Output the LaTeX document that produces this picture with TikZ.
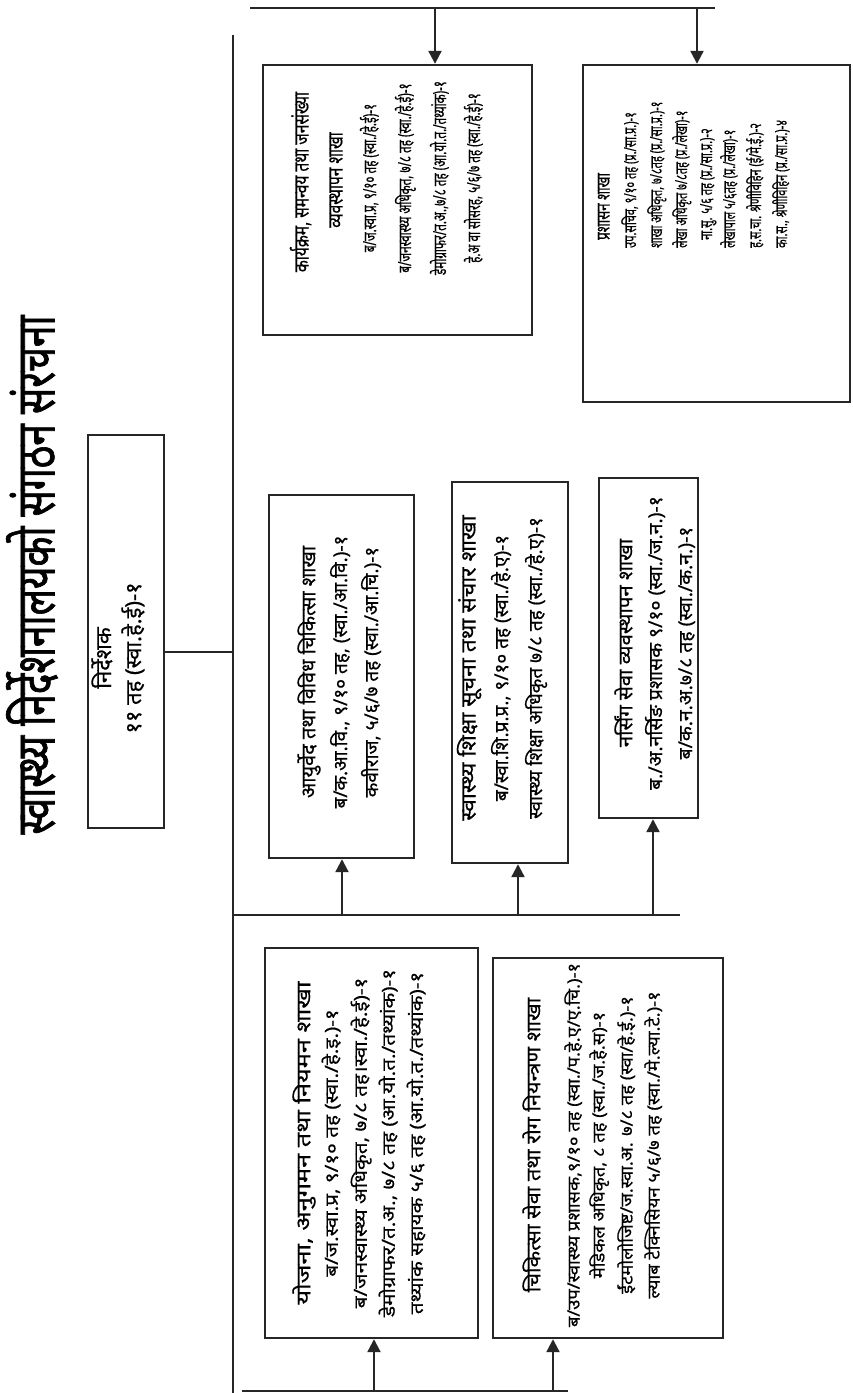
\documentclass[tikz,border=0pt]{standalone}
\usepackage{fontspec}
\usepackage{graphicx}
\usetikzlibrary{arrows.meta}
\newcommand\mkdv[2]{\newfontfamily#1[Script=Devanagari,FakeStretch=#2,FakeBold=0.5]{Noto Sans}}
\newfontfamily\dvT[Script=Devanagari,FakeStretch=0.72,FakeBold=1.2]{Noto Sans}
\mkdv\dvD{1.0}
\mkdv\dvK{0.74}
\mkdv\dvP{1.0}
\mkdv\dvA{1.0}
\mkdv\dvS{1.0}
\mkdv\dvN{1.02}
\mkdv\dvY{1.15}
\mkdv\dvC{1.08}
\newcommand\tline[5]{\node[lnode,#2] (#1) at (#3,#4) {#5};}
\tikzset{
  box/.style={draw=black!85, line width=2.4pt, rectangle, inner sep=0pt},
  conn/.style={draw=black!85, line width=2.2pt},
  arr/.style={conn, -{Triangle[length=13pt,width=13pt]}},
  lnode/.style={rotate=90, anchor=base, inner sep=0pt, text=black},
  fD/.style={font=\dvD\fontsize{22}{26}\selectfont},
  fKt/.style={font=\dvK\fontsize{21}{25}\selectfont},
  fK/.style={font=\dvK\fontsize{18}{22}\selectfont, xscale=0.88},
  fPt/.style={font=\dvP\fontsize{18.5}{22}\selectfont, anchor=base west, xscale=0.72},
  fP/.style={font=\dvP\fontsize{16.5}{20}\selectfont, anchor=base west, xscale=0.67},
  fAt/.style={font=\dvA\fontsize{20}{24}\selectfont},
  fA/.style={font=\dvA\fontsize{19}{23}\selectfont},
  fSt/.style={font=\dvS\fontsize{21}{25}\selectfont, xscale=1.09},
  fS/.style={font=\dvS\fontsize{19}{23}\selectfont},
  fNt/.style={font=\dvN\fontsize{20}{24}\selectfont},
  fN/.style={font=\dvN\fontsize{19}{23}\selectfont},
  fYt/.style={font=\dvY\fontsize{20}{24}\selectfont, xscale=1.1},
  fY/.style={font=\dvY\fontsize{18}{22}\selectfont},
  fCt/.style={font=\dvC\fontsize{20}{24}\selectfont},
  fC/.style={font=\dvC\fontsize{17}{21}\selectfont},
}
\begin{document}
\begin{tikzpicture}[x=1pt,y=-1pt]
\fill[white] (0,0) rectangle (853,1393);
\useasboundingbox (0,0) rectangle (853,1393);
% title
\node[rotate=90, inner sep=0pt, text=black, font={\dvT\fontsize{54}{54}\selectfont}] (title) at (32,575) {स्वास्थ्य निर्देशनालयको संगठन संरचना};
% boxes
\node[box, minimum width=76pt, minimum height=393pt] (dbox) at (126,631.5) {};
\node[box, minimum width=269pt, minimum height=270pt] (kbox) at (397.5,200) {};
\node[box, minimum width=267pt, minimum height=337pt] (pbox) at (716.5,233.5) {};
\node[box, minimum width=145pt, minimum height=363pt] (abox) at (341.5,676.5) {};
\node[box, minimum width=116pt, minimum height=381pt] (sbox) at (510,672.5) {};
\node[box, minimum width=99pt, minimum height=340pt] (nbox) at (648.5,648) {};
\node[box, minimum width=213pt, minimum height=390pt] (ybox) at (371.5,1143) {};
\node[box, minimum width=230pt, minimum height=380pt] (cbox) at (608,1148) {};
% director
\tline{d1}{fD}{111}{658}{निर्देशक}
\tline{d2}{fD}{141}{658}{११ तह (स्वा.हे.ई)-१}
% karyakram
\tline{k1}{fKt}{308.6}{182}{कार्यक्रम, समन्वय तथा जनसंख्या}
\tline{k2}{fKt}{342.6}{180}{व्यवस्थापन शाखा}
\tline{k3}{fK}{376}{178}{ब/ज.स्वा.प्र, ९/१० तह (स्वा./हे.ई)-१}
\tline{k4}{fK}{411}{178}{ब/जनस्वास्थ्य अधिकृत, ७/८ तह (स्वा./हे.ई)-१}
\tline{k5}{fK}{446}{178}{डेमोग्राफर/त.अ.,७/८ तह (आ.यो.त./तथ्यांक)-१}
\tline{k6}{fK}{480}{178}{हे.अ वा सोसरह, ५/६/७ तह (स्वा./हे.ई)-१}
% prashasan
\tline{p1}{fPt}{609.5}{240}{प्रशासन शाखा}
\tline{p2}{fP}{636}{248}{उप.सचिव, ९/१० तह (प्र./सा.प्र.)-१}
\tline{p3}{fP}{662}{248}{शाखा अधिकृत, ७/८तह (प्र./सा.प्र.)-१}
\tline{p4}{fP}{687}{248}{लेखा अधिकृत ७/८तह (प्र./लेखा)-१}
\tline{p5}{fP}{712}{240}{ना.सु. ५/६ तह (प्र./सा.प्र.)-२}
\tline{p6}{fP}{735}{248}{लेखापाल ५/६तह (प्र./लेखा)-१}
\tline{p7}{fP}{761}{248}{ह.स.चा. श्रेणीविहिन (ई/मे.ई.)-२}
\tline{p8}{fP}{787}{248}{का.स., श्रेणीविहिन (प्र./सा.प्र.)-४}
% ayurveda
\tline{a1}{fAt}{315.3}{672}{आयुर्वेद तथा विविध चिकित्सा शाखा}
\tline{a2}{fA}{347}{672}{ब/क.आ.वि., ९/१० तह, (स्वा./आ.वि.)-१}
\tline{a3}{fA}{378}{672}{कवीराज, ५/६/७ तह (स्वा./आ.चि.)-१}
% swasthya shiksha
\tline{s1}{fSt}{475.6}{668}{स्वास्थ्य शिक्षा सूचना तथा संचार शाखा}
\tline{s2}{fS}{508}{668}{ब/स्वा.शि.प्र.प्र., ९/१० तह (स्वा./हे.ए)-१}
\tline{s3}{fS}{542}{668}{स्वास्थ्य शिक्षा अधिकृत ७/८ तह (स्वा./हे.ए)-१}
% nursing
\tline{n1}{fNt}{632.3}{643}{नर्सिंग सेवा व्यवस्थापन शाखा}
\tline{n2}{fN}{662}{643}{ब./अ.नर्सिङ प्रशासक ९/१० (स्वा./ज.न.)-१}
\tline{n3}{fN}{692}{643}{ब/क.न.अ.७/८ तह (स्वा./क.न.)-१}
% yojana
\tline{y1}{fYt}{310.3}{1143}{योजना, अनुगमन तथा नियमन शाखा}
\tline{y2}{fY}{337.8}{1143}{ब/ज.स्वा.प्र, ९/१० तह (स्वा./हे.इ.)-१}
\tline{y3}{fY}{366.8}{1143}{ब/जनस्वास्थ्य अधिकृत, ७/८ तह।स्वा./हे.ई)-१}
\tline{y4}{fY}{394.8}{1143}{डेमोग्राफर/त.अ., ७/८ तह (आ.यो.त./तथ्यांक)-१}
\tline{y5}{fY}{422.8}{1143}{तथ्यांक सहायक ५/६ तह (आ.यो.त./तथ्यांक)-१}
% chikitsa
\tline{c1}{fCt}{540.3}{1145}{चिकित्सा सेवा तथा रोग नियन्त्रण शाखा}
\tline{c2}{fC}{579.5}{1145}{ब/उप/स्वास्थ्य प्रशासक,९/१० तह (स्वा./प.हे.ए/ए.चि.)-१}
\tline{c3}{fC}{604.5}{1145}{मेडिकल अधिकृत, ८ तह (स्वा./ज.हे.स)-१}
\tline{c4}{fC}{632.5}{1145}{ईंटमोलोजिष्ट/ज.स्वा.अ. ७/८ तह (स्वा/हे.ई.)-१}
\tline{c5}{fC}{659.5}{1145}{ल्याब टेक्निसियन ५/६/७ तह (स्वा./मे.ल्या.टे.)-१}
% coordinates
\coordinate (t1) at (250,8); \coordinate (t2) at (715,8);
\coordinate (ka) at (435,8); \coordinate (pa) at (697,8);
\coordinate (trt) at (233,35); \coordinate (trb) at (233,1393);
\coordinate (dj) at (233,652);
\coordinate (m1) at (233,915); \coordinate (m2) at (680,915);
\coordinate (aj) at (342,915); \coordinate (sj) at (518,915); \coordinate (nj) at (653,915);
\coordinate (b1) at (242,1391); \coordinate (b2) at (568,1391);
\coordinate (yj) at (374,1391); \coordinate (cj) at (553,1391);
% connectors
\draw[conn] (t1) -- (t2);
\draw[arr] (ka) -- (ka |- kbox.north);
\draw[arr] (pa) -- (pa |- pbox.north);
\draw[conn] (trt) -- (trb);
\draw[conn] (dj -| dbox.east) -- (dj);
\draw[conn] (m1) -- (m2);
\draw[arr] (aj) -- (aj |- abox.south);
\draw[arr] (sj) -- (sj |- sbox.south);
\draw[arr] (nj) -- (nj |- nbox.south);
\draw[conn] (b1) -- (b2);
\draw[arr] (yj) -- (yj |- ybox.south);
\draw[arr] (cj) -- (cj |- cbox.south);
\end{tikzpicture}
\end{document}
